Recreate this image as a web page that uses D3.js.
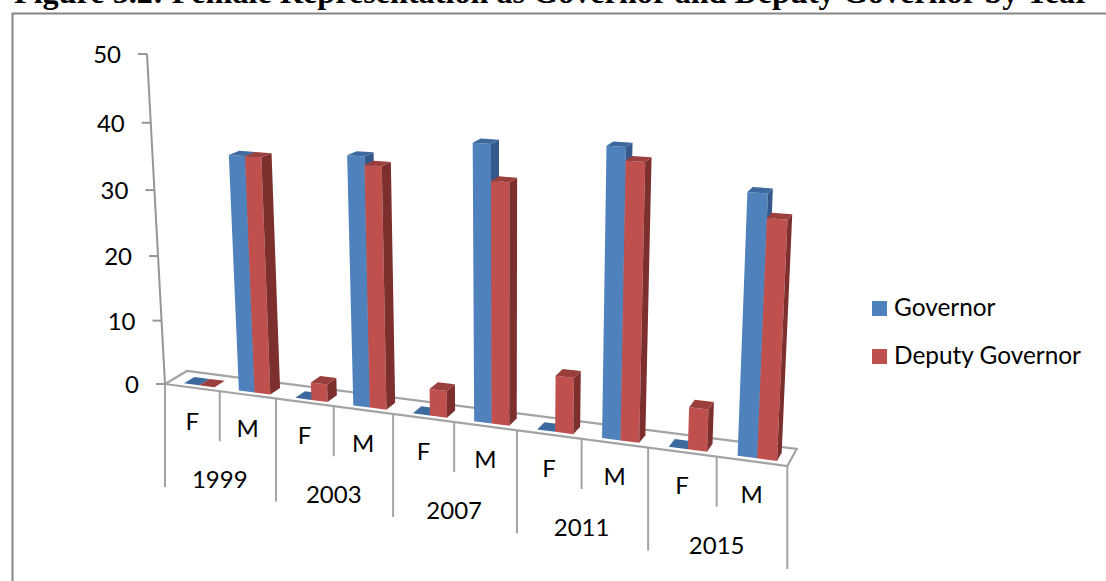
<!DOCTYPE html>
<html>
<head>
<meta charset="utf-8">
<script src="https://cdn.jsdelivr.net/npm/d3@7"></script>
<style>
    html, body { margin: 0; padding: 0; background: #fff; overflow: hidden; }
    svg { display: block; }
    text { font-family: Lato, "Open Sans", sans-serif; fill: #000; }
    .title { font-family: "Liberation Serif", serif; font-weight: bold; font-size: 32.2px; }
</style>
</head>
<body>
<svg id="chart" width="1106" height="581"></svg>
<script>
const titleText = 'Figure 5.2: Female Representation as Governor and Deputy Governor by Year';
const years = ['1999', '2003', '2007', '2011', '2015'];
const genders = ['F', 'M'];
const seriesNames = ['Governor', 'Deputy Governor'];
const governorValues = [0, 35.8, 0, 37, 0, 40, 0, 40.8, 0, 36];
const deputyValues = [0, 35.8, 2.7, 35.8, 4, 34.9, 8.2, 39, 6, 32.8];
const valueTicks = [0, 10, 20, 30, 40, 50];

const colors = {
    Governor: { front: '#4f81bd', top: '#3c6a9e', side: '#34598a' },
    'Deputy Governor': { front: '#c0504d', top: '#9b3f3c', side: '#7d2f2e' }
};

const svg = d3.select('#chart');

// Perspective camera: origin is the corner of the floor under the value axis,
// then vanishing points for the category, value and depth directions
const origin = [165, 384];
const vanishX = [-3927, -155], vanishY = [507, 6654], vanishZ = [1159, -204];
const kx = -0.132, ky = -0.05, kz = 0.0226;

function project(u, v, w) {
    const a = kx * u, b = ky * v, c = kz * w;
    const d = 1 + a + b + c;
    return [
        (origin[0] + a * vanishX[0] + b * vanishY[0] + c * vanishZ[0]) / d,
        (origin[1] + a * vanishX[1] + b * vanishY[1] + c * vanishZ[1]) / d
    ];
}

// Scales into the unit box of the chart
const slots = years.flatMap(y => genders.map(g => y + g));
const slotEdge = d3.scaleLinear().domain([0, slots.length]).range([0, 1]);
const barBand = d3.scaleBand().domain(slots).range([0, 1])
    .paddingInner(0.44).paddingOuter(0.22).align(0.61);
const seriesBand = d3.scaleBand().domain(seriesNames).range([0, barBand.bandwidth()]);
const valueScale = d3.scaleLinear().domain([0, 50]).range([0, 1]);
const barDepth = [0.2, 0.68];

const polygon = d3.line();

// Frame
svg.append('rect')
    .attr('x', 12.5).attr('y', 13.5)
    .attr('width', 1200).attr('height', 700)
    .attr('fill', '#fff').attr('stroke', '#868686').attr('stroke-width', 2);

svg.append('text').attr('class', 'title')
    .attr('x', 14).attr('y', 3)
    .text(titleText);

// Floor
svg.append('path')
    .attr('d', polygon([project(0, 0, 0), project(1, 0, 0), project(1, 0, 1), project(0, 0, 1)]) + 'Z')
    .attr('fill', '#fff').attr('stroke', '#a3a3a3').attr('stroke-width', 2.2);

// Value axis
svg.append('path')
    .attr('d', polygon([project(0, 0, 0), project(0, 1, 0)]))
    .attr('fill', 'none').attr('stroke', '#969696').attr('stroke-width', 2);

const axisGroup = svg.append('g')
    .call(d3.axisLeft(valueScale).tickValues(valueTicks.map(valueScale)).tickSize(9).tickPadding(17)
        .tickFormat(d => valueScale.invert(d)));
axisGroup.select('.domain').remove();
axisGroup.attr('font-family', null).attr('font-size', 24);
axisGroup.selectAll('.tick').attr('transform', d => `translate(${project(0, d, 0)})`);
axisGroup.selectAll('.tick line').attr('stroke', '#969696').attr('stroke-width', 2);
axisGroup.selectAll('.tick text').style('fill', '#000').attr('y', 1.5);

// Category separators hang straight down from the front edge of the floor
d3.range(0, slots.length + 1).forEach(i => {
    const p = project(slotEdge(i), 0, 0);
    const len = i % 2 === 0 ? 103 : 50;
    svg.append('line')
        .attr('x1', p[0]).attr('x2', p[0]).attr('y1', p[1]).attr('y2', p[1] + len)
        .attr('stroke', '#a3a3a3').attr('stroke-width', 2);
});

slots.forEach((slot, i) => {
    const p = project(slotEdge(i + 0.5), 0, 0);
    svg.append('text').attr('x', p[0]).attr('y', p[1] + 36)
        .attr('text-anchor', 'middle').attr('dominant-baseline', 'middle')
        .attr('font-size', 24)
        .text(genders[i % 2]);
});
years.forEach((year, i) => {
    const p = project(slotEdge(i * 2 + 1), 0, 0);
    svg.append('text').attr('x', p[0]).attr('y', p[1] + 91)
        .attr('text-anchor', 'middle').attr('dominant-baseline', 'middle')
        .attr('font-size', 24)
        .text(year);
});

// Bars, painted left to right
function drawBar(slot, name, value) {
    const x0 = barBand(slot) + seriesBand(name);
    const x1 = x0 + seriesBand.bandwidth();
    const [z0, z1] = barDepth;
    const v = valueScale(value);
    const c = colors[name];
    const g = svg.append('g');
    if (value > 0) {
        g.append('path').attr('fill', c.front)
            .attr('d', polygon([project(x0, 0, z0), project(x1, 0, z0), project(x1, v, z0), project(x0, v, z0)]) + 'Z');
        g.append('path').attr('fill', c.side)
            .attr('d', polygon([project(x1, 0, z0), project(x1, 0, z1), project(x1, v, z1), project(x1, v, z0)]) + 'Z');
    }
    g.append('path').attr('fill', c.top)
        .attr('d', polygon([project(x0, v, z0), project(x1, v, z0), project(x1, v, z1), project(x0, v, z1)]) + 'Z');
}

slots.forEach((slot, i) => {
    drawBar(slot, seriesNames[0], governorValues[i]);
    drawBar(slot, seriesNames[1], deputyValues[i]);
});

// Legend
const legendY = d3.scalePoint().domain(seriesNames).range([308.5, 356.5]);
seriesNames.forEach(name => {
    svg.append('rect').attr('x', 872).attr('y', legendY(name) - 7.5)
        .attr('width', 15).attr('height', 15)
        .attr('fill', colors[name].front);
    svg.append('text').attr('x', 894).attr('y', legendY(name) + 1)
        .attr('dominant-baseline', 'middle').attr('font-size', 24.4)
        .text(name);
});
</script>
</body>
</html>
